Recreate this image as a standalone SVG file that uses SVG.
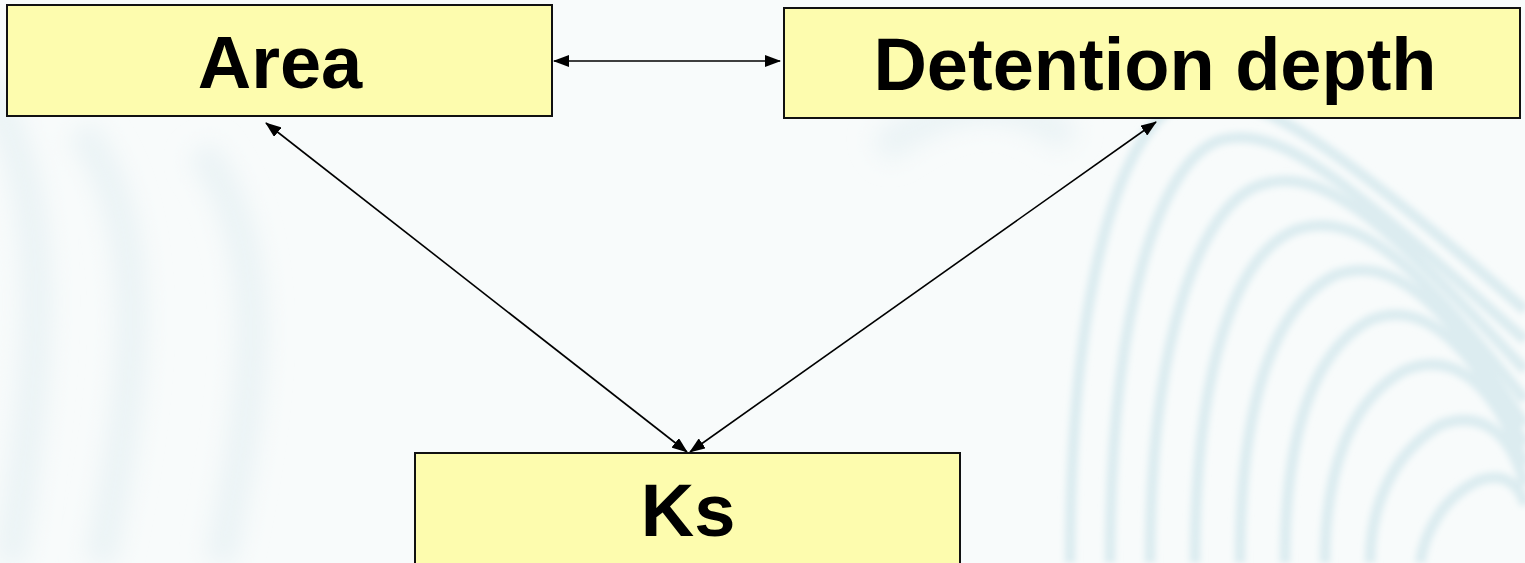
<svg xmlns="http://www.w3.org/2000/svg" width="1525" height="563" viewBox="0 0 1525 563">
  <defs>
    <filter id="soft" x="-10%" y="-10%" width="120%" height="120%">
      <feGaussianBlur stdDeviation="3"/>
    </filter>
    <filter id="softer" x="-10%" y="-10%" width="120%" height="120%">
      <feGaussianBlur stdDeviation="12"/>
    </filter>
    <marker id="arrow" viewBox="0 0 16 12" refX="15" refY="6" markerWidth="16" markerHeight="12" markerUnits="userSpaceOnUse" orient="auto-start-reverse">
      <path d="M0,0 L16,6 L0,12 Z" fill="#000"/>
    </marker>
    <style>
      .node rect { fill: #fdfcae; stroke: #111; stroke-width: 2; }
      .node text { font-family: "Liberation Sans", Arial, sans-serif; font-weight: bold; font-size: 74px; fill: #000; text-anchor: middle; }
      .link { stroke: #000; stroke-width: 1.6; fill: none; marker-start: url(#arrow); marker-end: url(#arrow); }
      .wave { fill: none; stroke: #dcecf0; stroke-width: 11; }
      .wave-faint { fill: none; stroke: #eaf3f5; stroke-width: 30; }
    </style>
  </defs>

  <!-- backdrop -->
  <rect width="1525" height="563" fill="#f8fbfb"/>
  <g id="backdrop-left" filter="url(#softer)">
    <path class="wave-faint" d="M-20,80 C60,180 40,380 10,563"/>
    <path class="wave-faint" d="M80,130 C160,230 130,420 100,563"/>
    <path class="wave-faint" d="M200,150 C280,250 250,420 220,563"/>
    <path class="wave-faint" d="M880,150 C950,100 1010,90 1070,140"/>
  </g>
  <g id="backdrop-right" filter="url(#soft)">
    <path class="wave" d="M1110,563 C1110,310 1160,160 1220,140 C1280,125 1340,175 1525,340"/>
    <path class="wave" d="M1150,563 C1150,340 1200,205 1260,185 C1320,165 1380,215 1525,370"/>
    <path class="wave" d="M1195,563 C1195,370 1235,255 1295,230 C1355,210 1410,255 1525,400"/>
    <path class="wave" d="M1240,563 C1240,400 1275,305 1335,275 C1390,255 1440,295 1525,425"/>
    <path class="wave" d="M1285,563 C1285,430 1315,350 1370,320 C1420,300 1465,335 1525,445"/>
    <path class="wave" d="M1325,563 C1325,470 1350,400 1405,370 C1450,352 1490,375 1525,465"/>
    <path class="wave" d="M1370,563 C1370,510 1390,455 1440,425 C1480,410 1510,430 1525,485"/>
    <path class="wave" d="M1420,563 C1425,530 1445,495 1480,480 C1505,472 1520,485 1525,505"/>
    <path class="wave" d="M1070,563 C1070,290 1120,125 1185,100 C1245,85 1320,130 1525,310"/>
  </g>

  <!-- connectors -->
  <g id="connectors">
    <line class="link" x1="554" y1="61" x2="780" y2="61"/>
    <line class="link" x1="266" y1="123" x2="687" y2="452"/>
    <line class="link" x1="1156" y1="122" x2="690" y2="452"/>
  </g>

  <!-- nodes -->
  <g id="node-area" class="node">
    <rect x="7" y="5" width="545" height="111"/>
    <text x="280" y="88">Area</text>
  </g>
  <g id="node-detention-depth" class="node">
    <rect x="784" y="8" width="736" height="110"/>
    <text x="1155" y="90">Detention depth</text>
  </g>
  <g id="node-ks" class="node">
    <rect x="415" y="453" width="545" height="125"/>
    <text x="688" y="536">Ks</text>
  </g>
</svg>
